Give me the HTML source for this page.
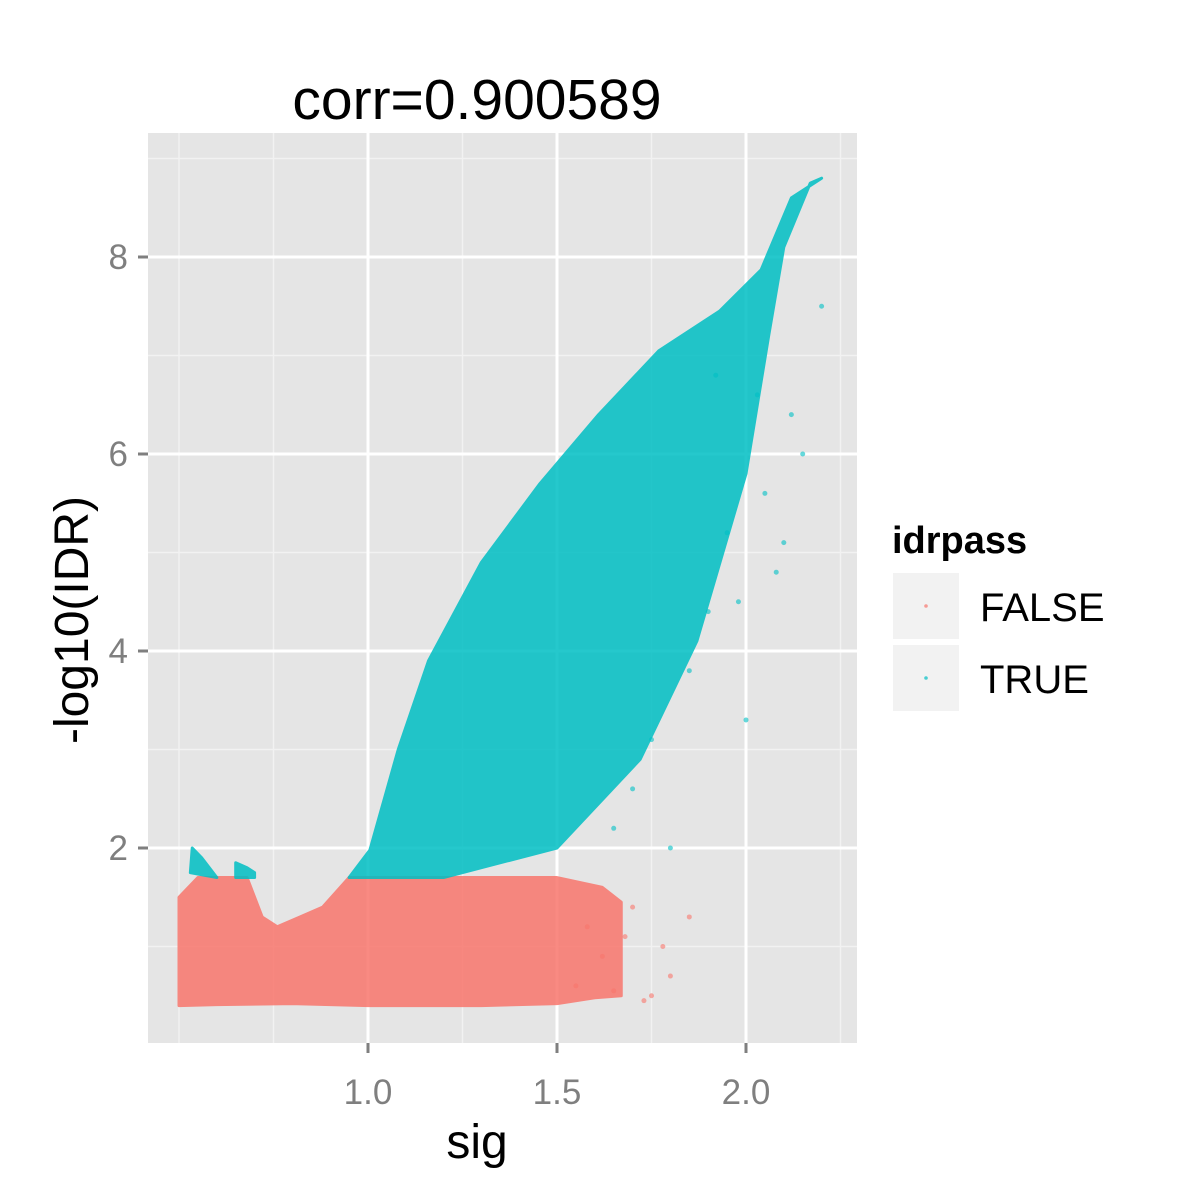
<!DOCTYPE html>
<html><head><meta charset="utf-8"><style>
html,body{margin:0;padding:0;background:#fff;}
svg{display:block;font-family:"Liberation Sans",sans-serif;}
</style></head><body>
<svg id="chart" width="1200" height="1200" viewBox="0 0 1200 1200">
<rect x="0" y="0" width="1200" height="1200" fill="#fff"/>
<text x="477" y="119" font-size="57" text-anchor="middle" fill="#000">corr=0.900589</text>
<rect x="148" y="133" width="709" height="910" fill="#E5E5E5"/>
<g id="grid"></g>
<g id="marks"></g>
<g id="axes"></g>
<text x="477" y="1158" font-size="48" text-anchor="middle">sig</text>
<text transform="translate(88,620) rotate(-90)" font-size="48" text-anchor="middle">-log10(IDR)</text>
<g>
<text x="892" y="553" font-size="38" font-weight="bold">idrpass</text>
<rect x="893" y="573" width="66" height="66" fill="#F2F2F2"/>
<circle cx="926" cy="606" r="1.8" fill="#F8766D" opacity="0.7"/>
<text x="980" y="621" font-size="40">FALSE</text>
<rect x="893" y="645" width="66" height="66" fill="#F2F2F2"/>
<circle cx="926" cy="678" r="1.8" fill="#00BFC4" opacity="0.7"/>
<text x="980" y="693" font-size="40">TRUE</text>
</g>
</svg>
<script>
const xMajor=[1.0,1.5,2.0];
const xMinor=[0.5,0.75,1.25,1.75,2.25];
const yMajor=[2,4,6,8];
const yMinor=[1,3,5,7,9];
const xTickLabels=["1.0","1.5","2.0"];
const yTickLabels=["2","4","6","8"];
// TRUE envelope: upper edge then lower edge (sig, -log10 IDR)
const trueUpperX=[0.95,1.005,1.08,1.16,1.30,1.455,1.61,1.77,1.93,2.04,2.12,2.2];
const trueUpperY=[1.7,1.98,3.0,3.9,4.9,5.7,6.4,7.05,7.45,7.87,8.6,8.8];
const trueLowerX=[2.17,2.1,2.06,2.0,1.87,1.72,1.5,1.2,0.95];
const trueLowerY=[8.75,8.1,7.2,5.8,4.1,2.9,2.0,1.7,1.7];
// sparse tail points of TRUE
const trueTailX=[2.2,2.12,2.1,2.08,2.05,2.0,1.98,1.95,1.9,1.85,1.8,1.75,1.7,1.65,2.15,2.03,1.92];
const trueTailY=[7.5,6.4,5.1,4.8,5.6,3.3,4.5,5.2,4.4,3.8,2.0,3.1,2.6,2.2,6.0,6.6,6.8];
// small TRUE clusters at low sig
const trueSmallX=[0.535,0.56,0.6,0.6,0.53];
const trueSmallY=[2.0,1.9,1.7,1.7,1.75];
const trueSmall2X=[0.65,0.68,0.7,0.7,0.65];
const trueSmall2Y=[1.85,1.8,1.75,1.7,1.7];
// FALSE envelope
const falseUpperX=[0.5,0.55,0.6,0.68,0.72,0.76,0.82,0.88,0.95,1.2,1.4,1.5,1.62,1.67];
const falseUpperY=[1.5,1.7,1.7,1.7,1.3,1.2,1.3,1.4,1.7,1.7,1.7,1.7,1.6,1.45];
const falseLowerX=[1.67,1.6,1.5,1.3,1.0,0.8,0.6,0.5];
const falseLowerY=[0.5,0.48,0.42,0.4,0.4,0.42,0.41,0.4];
const falseTailX=[1.7,1.75,1.8,1.85,1.62,1.68,1.58,1.73,1.78,1.55,1.65];
const falseTailY=[1.4,0.5,0.7,1.3,0.9,1.1,1.2,0.45,1.0,0.6,0.55];

const NS="http://www.w3.org/2000/svg";
const L=148,R=857,T=133,B=1043;
function sx(v){return 368+(v-1.0)*378;}
function sy(v){return 1045-v*98.5;}
function el(tag,attrs,parent){const e=document.createElementNS(NS,tag);for(const k in attrs)e.setAttribute(k,attrs[k]);parent.appendChild(e);return e;}
const grid=document.getElementById('grid'),marks=document.getElementById('marks'),axes=document.getElementById('axes');
xMinor.forEach(v=>{const e=el('line',{x1:sx(v),x2:sx(v),y1:T,y2:B,stroke:'#F2F2F2','stroke-width':1.5},grid);

});
yMinor.forEach(v=>{const e=el('line',{x1:L,x2:R,y1:sy(v),y2:sy(v),stroke:'#F2F2F2','stroke-width':1.5},grid);

});
xMajor.forEach((v,i)=>{const e=el('line',{x1:sx(v),x2:sx(v),y1:T,y2:B,stroke:'#fff','stroke-width':3},grid);


const t=el('line',{x1:sx(v),x2:sx(v),y1:B,y2:B+10,stroke:'#7F7F7F','stroke-width':3},axes);


const l=el('text',{x:sx(v),y:1104,'font-size':35,'text-anchor':'middle',fill:'#7F7F7F'},axes);l.textContent=xTickLabels[i];

});
yMajor.forEach((v,i)=>{const e=el('line',{x1:L,x2:R,y1:sy(v),y2:sy(v),stroke:'#fff','stroke-width':3},grid);


const t=el('line',{x1:L-10,x2:L,y1:sy(v),y2:sy(v),stroke:'#7F7F7F','stroke-width':3},axes);


const l=el('text',{x:L-20,y:sy(v)+12,'font-size':35,'text-anchor':'end',fill:'#7F7F7F'},axes);l.textContent=yTickLabels[i];

});
function poly(xs,ys,xs2,ys2,color,name,op){
 let pts=xs.map((x,i)=>sx(x)+','+sy(ys[i]));
 if(xs2)pts=pts.concat(xs2.map((x,i)=>sx(x)+','+sy(ys2[i])));
 const p=el('polygon',{points:pts.join(' '),fill:color,opacity:op,stroke:color,'stroke-width':3,'stroke-linejoin':'round'},marks);
 
 
}
poly(falseUpperX,falseUpperY,falseLowerX,falseLowerY,'#F8766D','false-point-cloud',0.85);
poly(trueUpperX,trueUpperY,trueLowerX,trueLowerY,'#00BFC4','true-point-cloud',0.85);
poly(trueSmallX,trueSmallY,null,null,'#00BFC4','true-cluster-low',0.85);
poly(trueSmall2X,trueSmall2Y,null,null,'#00BFC4','true-cluster-low-2',0.85);
trueTailX.forEach((x,i)=>{const c=el('circle',{cx:sx(x),cy:sy(trueTailY[i]),r:2.5,fill:'#00BFC4',opacity:0.6},marks);

});
falseTailX.forEach((x,i)=>{const c=el('circle',{cx:sx(x),cy:sy(falseTailY[i]),r:2.5,fill:'#F8766D',opacity:0.6},marks);

});
</script>
</body></html>
